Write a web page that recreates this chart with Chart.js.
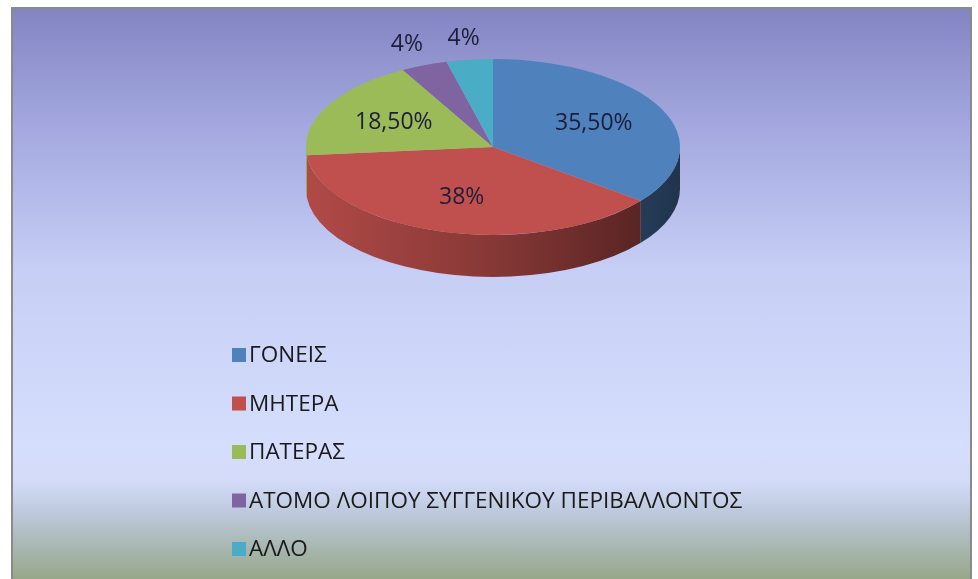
<!DOCTYPE html>
<html>
<head>
<meta charset="utf-8">
<script src="https://cdn.jsdelivr.net/npm/chart.js@4.4.0/dist/chart.umd.min.js"></script>
<style>
    html, body { margin: 0; padding: 0; background: #ffffff; }
    #wrap { position: relative; width: 978px; height: 579px; overflow: hidden; }
    #frame {
        position: absolute; left: 11px; top: 7px; width: 961px; height: 580px;
        border: 2px solid #8a8a8a; box-sizing: border-box;
        background: linear-gradient(to bottom, #8385c3 0%, #a3a7de 20%, #c6cef5 45%, #d6defd 76%, #d3dbf8 82%, #bfcadf 87%, #a9b8b4 93%, #93a481 100%);
    }
    #chart { position: absolute; left: 0; top: 0; }
</style>
</head>
<body>
<div id="wrap">
    <div id="frame"></div>
    <canvas id="chart" width="978" height="579"></canvas>
</div>
<script>
const categories = ['ΓΟΝΕΙΣ', 'ΜΗΤΕΡΑ', 'ΠΑΤΕΡΑΣ', 'ΑΤΟΜΟ ΛΟΙΠΟΥ ΣΥΓΓΕΝΙΚΟΥ ΠΕΡΙΒΑΛΛΟΝΤΟΣ', 'ΑΛΛΟ'];
const shares = [35.5, 38, 18.5, 4, 4];
const shareLabels = ['35,50%', '38%', '18,50%', '4%', '4%'];
const sliceColors = ['#4f81bd', '#c0504d', '#9bbb59', '#8064a2', '#4bacc6'];

// look of the tilted pie
const tilt = 0.47;       // vertical squash of the top face
const pieCenterY = 147;  // where the top face is centred on screen
const depth = 42;        // height of the side wall

function shade(hex, f) {
    const n = parseInt(hex.slice(1), 16);
    const r = Math.round(((n >> 16) & 255) * f);
    const g = Math.round(((n >> 8) & 255) * f);
    const b = Math.round((n & 255) * f);
    return `rgb(${r}, ${g}, ${b})`;
}

const tiltPie = {
    id: 'tiltPie',
    beforeDatasetsDraw(chart) {
        const ctx = chart.ctx;
        const arcs = chart.getDatasetMeta(0).data;
        // side wall, only the front half (canvas angles 0..PI) can be seen
        arcs.forEach((arc, i) => {
            const a0 = Math.max(arc.startAngle, 0);
            const a1 = Math.min(arc.endAngle, Math.PI);
            if (a1 <= a0) return;
            const r = arc.outerRadius;
            const ry = r * tilt;
            const grad = ctx.createLinearGradient(arc.x - r, 0, arc.x + r, 0);
            grad.addColorStop(0, shade(sliceColors[i], 0.92));
            grad.addColorStop(0.5, shade(sliceColors[i], 0.7));
            grad.addColorStop(1, shade(sliceColors[i], 0.4));
            ctx.save();
            ctx.beginPath();
            ctx.ellipse(arc.x, pieCenterY, r, ry, 0, a0, a1);
            ctx.ellipse(arc.x, pieCenterY + depth, r, ry, 0, a1, a0, true);
            ctx.closePath();
            ctx.fillStyle = grad;
            ctx.fill();
            ctx.restore();
        });
        // squash the top face
        const cy = arcs[0].y;
        ctx.save();
        ctx.translate(0, pieCenterY);
        ctx.scale(1, tilt);
        ctx.translate(0, -cy);
    },
    afterDatasetsDraw(chart) {
        const ctx = chart.ctx;
        ctx.restore();
        const arcs = chart.getDatasetMeta(0).data;
        ctx.save();
        ctx.font = '23px "Open Sans", sans-serif';
        ctx.fillStyle = '#1d1d3a';
        ctx.textAlign = 'center';
        ctx.textBaseline = 'middle';
        arcs.forEach((arc, i) => {
            const mid = (arc.startAngle + arc.endAngle) / 2;
            const f = shares[i] < 10 ? 1.25 : 0.6;
            const x = arc.x + Math.cos(mid) * arc.outerRadius * f;
            const y = pieCenterY + Math.sin(mid) * arc.outerRadius * tilt * f;
            ctx.fillText(shareLabels[i], x, y);
        });
        ctx.restore();
    },
    afterDraw(chart) {
        // legend stacked under the pie
        const ctx = chart.ctx;
        ctx.save();
        ctx.font = '22.5px "Open Sans", sans-serif';
        ctx.textBaseline = 'middle';
        ctx.textAlign = 'left';
        categories.forEach((name, i) => {
            const y = 355 + i * 48.5;
            ctx.fillStyle = sliceColors[i];
            ctx.fillRect(232, y - 7, 14, 14);
            ctx.fillStyle = '#1a1a1a';
            ctx.fillText(name, 249, y + 1);
        });
        ctx.restore();
    }
};

const ctx = document.getElementById('chart').getContext('2d');
new Chart(ctx, {
    type: 'pie',
    data: {
        labels: categories,
        datasets: [{
            data: shares,
            backgroundColor: sliceColors,
            borderWidth: 0
        }]
    },
    options: {
        responsive: false,
        animation: false,
        layout: {
            padding: { left: 306, right: 298, top: 0, bottom: 205 }
        },
        plugins: {
            legend: { display: false },
            tooltip: { enabled: false }
        }
    },
    plugins: [tiltPie]
});
</script>
</body>
</html>
